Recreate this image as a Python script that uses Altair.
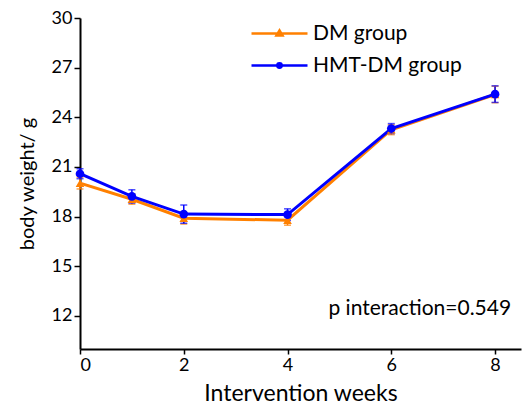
import altair as alt
import pandas as pd

weeks = [0, 1, 2, 4, 6, 8]
groups = ["DM group", "HMT-DM group"]
dm_mean = [20.02, 19.05, 17.90, 17.78, 23.25, 25.38]
dm_err = [0.35, 0.30, 0.35, 0.30, 0.30, 0.50]
hmt_mean = [20.59, 19.22, 18.15, 18.12, 23.32, 25.40]
hmt_err = [0.30, 0.40, 0.55, 0.35, 0.30, 0.50]
y_ticks = [12, 15, 18, 21, 24, 27, 30]
x_ticks = [0, 2, 4, 6, 8]
annotation = "p interaction=0.549"

ORANGE = "#FF8000"
BLUE = "#0000FF"
FONT = "Lato"

rows = []
for g, means, errs in [(groups[0], dm_mean, dm_err), (groups[1], hmt_mean, hmt_err)]:
    for w, m, e in zip(weeks, means, errs):
        rows.append({"week": w, "group": g, "mean": m, "lo": m - e, "hi": m + e})
df = pd.DataFrame(rows)

xs = alt.Scale(domain=[0, 8.5], nice=False, zero=False)
ys = alt.Scale(domain=[10, 30], nice=False, zero=False)
cscale = alt.Scale(domain=groups, range=[ORANGE, BLUE])

X = alt.X("week:Q", scale=xs, axis=alt.Axis(
    values=x_ticks, title="Intervention weeks", format="d", titleFontSize=23,
    tickSize=5, tickWidth=1.5, labelPadding=2, titlePadding=8))
Y = alt.Y("mean:Q", scale=ys, axis=alt.Axis(
    values=y_ticks, title="body weight/ g", tickSize=6, tickWidth=1.5,
    labelPadding=2, titlePadding=14))
C = alt.Color("group:N", scale=cscale, legend=None)

base = alt.Chart(df)

err_rule = base.mark_rule(strokeWidth=1.5).encode(
    x=X, y=alt.Y("lo:Q", scale=ys), y2="hi:Q", color=C)
err_lo = base.mark_tick(orient="horizontal", size=7, thickness=1.5).encode(
    x=X, y=alt.Y("lo:Q", scale=ys), color=C)
err_hi = base.mark_tick(orient="horizontal", size=7, thickness=1.5).encode(
    x=X, y=alt.Y("hi:Q", scale=ys), color=C)

lines = base.mark_line(strokeWidth=3).encode(x=X, y=Y, color=C, detail="group:N")

tri = base.transform_filter(alt.datum.group == groups[0]).mark_point(
    shape="triangle-up", filled=True, size=75, opacity=1).encode(x=X, y=Y, color=C)
circ = base.transform_filter(alt.datum.group == groups[1]).mark_point(
    shape="circle", filled=True, size=75, opacity=1).encode(x=X, y=Y, color=C)

# legend symbols: a line with a marker on it (unit box scaled by sqrt(symbolSize)/2)
dm_path = "M-2.8,0H2.8M0,-0.3L0.3,0.2L-0.3,0.2Z"
hmt_path = "M-2.8,0H2.8M-0.22,0A0.22,0.22 0 1,0 0.22,0A0.22,0.22 0 1,0 -0.22,0Z"
leg = alt.Legend(title=None, orient="none", legendX=188, legendY=4,
                 symbolSize=400, symbolStrokeWidth=2.5, labelFontSize=21,
                 labelFont=FONT, labelColor="black", rowPadding=10,
                 labelOffset=22, symbolOpacity=1)
legend_layer = base.mark_point(filled=False, opacity=0).encode(
    x=X, y=Y,
    color=alt.Color("group:N", scale=alt.Scale(domain=groups, range=[ORANGE, BLUE]), legend=leg),
    shape=alt.Shape("group:N", scale=alt.Scale(domain=groups, range=[dm_path, hmt_path]), legend=leg),
)

text = alt.Chart(pd.DataFrame({"t": [annotation]})).mark_text(
    align="right", baseline="middle", fontSize=21, font=FONT, color="black").encode(
    x=alt.datum(8.31, scale=xs), y=alt.datum(12.42, scale=ys), text="t:N")

chart = alt.layer(err_rule, err_lo, err_hi, lines, tri, circ, legend_layer, text).resolve_scale(
    color="independent", shape="independent").properties(
    width=441, height=331,
    autosize=alt.AutoSizeParams(type="none"),
    padding={"left": 80, "top": 18, "right": 3, "bottom": 63},
    background="white",
).configure_view(stroke=None).configure_axis(
    grid=False, domainColor="black", domainWidth=2, tickColor="black",
    labelFont=FONT, labelFontSize=18, labelColor="black",
    titleFont=FONT, titleFontSize=20, titleFontWeight="normal", titleColor="black",
)

chart.save("out.html", embed_options={"renderer": "svg", "actions": False})
